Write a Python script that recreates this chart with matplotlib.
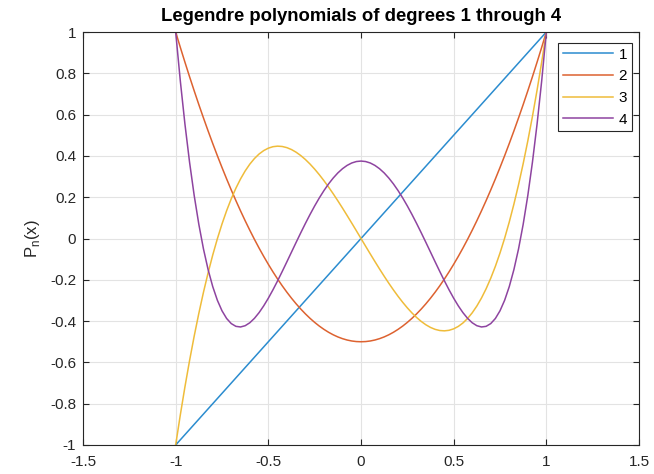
import numpy as np
import matplotlib
matplotlib.use('Agg')
import matplotlib.pyplot as plt

# Values, x from 0 to 1 in steps of 0.025 #
x_half = [0.0, 0.025, 0.05, 0.075, 0.1, 0.125, 0.15, 0.175, 0.2, 0.225, 0.25,
          0.275, 0.3, 0.325, 0.35, 0.375, 0.4, 0.425, 0.45, 0.475, 0.5,
          0.525, 0.55, 0.575, 0.6, 0.625, 0.65, 0.675, 0.7, 0.725, 0.75,
          0.775, 0.8, 0.825, 0.85, 0.875, 0.9, 0.925, 0.95, 0.975, 1.0]
p2_half = [-0.5, -0.4991, -0.4963, -0.4916, -0.485, -0.4766, -0.4663, -0.4541, -0.44, -0.4241, -0.4063,
           -0.3866, -0.365, -0.3416, -0.3163, -0.2891, -0.26, -0.2291, -0.1963, -0.1616, -0.125,
           -0.0866, -0.0463, -0.0041, 0.04, 0.0859, 0.1338, 0.1834, 0.235, 0.2884, 0.3438,
           0.4009, 0.46, 0.5209, 0.5838, 0.6484, 0.715, 0.7834, 0.8538, 0.9259, 1.0]
p3_half = [0.0, -0.0375, -0.0747, -0.1114, -0.1475, -0.1826, -0.2166, -0.2491, -0.28, -0.309, -0.3359,
           -0.3605, -0.3825, -0.4017, -0.4178, -0.4307, -0.44, -0.4456, -0.4472, -0.4446, -0.4375,
           -0.4257, -0.4091, -0.3872, -0.36, -0.3271, -0.2884, -0.2436, -0.1925, -0.1348, -0.0703,
           0.0012, 0.08, 0.1663, 0.2603, 0.3623, 0.4725, 0.5911, 0.7184, 0.8546, 1.0]
p4_half = [0.375, 0.3727, 0.3657, 0.354, 0.3379, 0.3175, 0.2928, 0.2643, 0.232, 0.1964, 0.1577,
           0.1164, 0.0729, 0.0277, -0.0187, -0.0658, -0.113, -0.1596, -0.205, -0.2484, -0.2891,
           -0.3262, -0.359, -0.3866, -0.408, -0.4223, -0.4284, -0.4254, -0.4121, -0.3874, -0.3501,
           -0.2991, -0.233, -0.1506, -0.0506, 0.0685, 0.2079, 0.3693, 0.5541, 0.7638, 1.0]
labels = ['1', '2', '3', '4']

# Mirror to the negative side (P2, P4 even, P3 odd) #
x = np.concatenate((-np.array(x_half[:0:-1]), x_half))
p1 = x.copy()
p2 = np.concatenate((p2_half[:0:-1], p2_half))
p3 = np.concatenate((-np.array(p3_half[:0:-1]), p3_half))
p4 = np.concatenate((p4_half[:0:-1], p4_half))

colors = ['#2b8ccf', '#dd6230', '#efbc3a', '#8e44a0']

plt.rcParams['font.family'] = ['Liberation Sans', 'DejaVu Sans']
fig = plt.figure(figsize=(6.54, 4.74), dpi=100)
ax = fig.add_axes([83 / 654, 1 - 445 / 474, 556 / 654, 413 / 474])

for y, c, lab in zip([p1, p2, p3, p4], colors, labels):
    ax.plot(x, y, color=c, lw=1.1, label=lab)

ax.set_xlim(-1.5, 1.5)
ax.set_ylim(-1, 1)
ax.set_xticks(np.arange(-1.5, 1.51, 0.5))
ax.set_xticklabels(['-1.5', '-1', '-0.5', '0', '0.5', '1', '1.5'])
ax.set_yticks(np.arange(-1, 1.01, 0.2))
ax.set_yticklabels(['-1', '-0.8', '-0.6', '-0.4', '-0.2', '0', '0.2', '0.4', '0.6', '0.8', '1'])
ax.grid(True, color='#e3e3e3', lw=0.8)
ax.set_axisbelow(True)
ax.tick_params(direction='in', length=4, width=0.8, colors='#262626', labelsize=11,
               top=True, right=True, labeltop=False, labelright=False)
ax.tick_params(axis='x', pad=7)
ax.tick_params(axis='y', pad=5)
for s in ax.spines.values():
    s.set_color('#262626')
    s.set_linewidth(0.8)

ax.set_ylabel(r'P$_\mathregular{n}$(x)', fontsize=12, color='#262626', labelpad=6)
ax.set_title('Legendre polynomials of degrees 1 through 4', fontsize=13.3, fontweight='bold', pad=8)

leg = ax.legend(loc='upper right', fontsize=11, fancybox=False, framealpha=1,
                edgecolor='#262626', handlelength=3.3, handletextpad=0.35, borderpad=0.3,
                labelspacing=0.5, borderaxespad=0, bbox_to_anchor=(631 / 639 - 0.0005, 1 - 11 / 413))
leg.get_frame().set_linewidth(0.8)

fig.savefig('out.png', dpi=100)
